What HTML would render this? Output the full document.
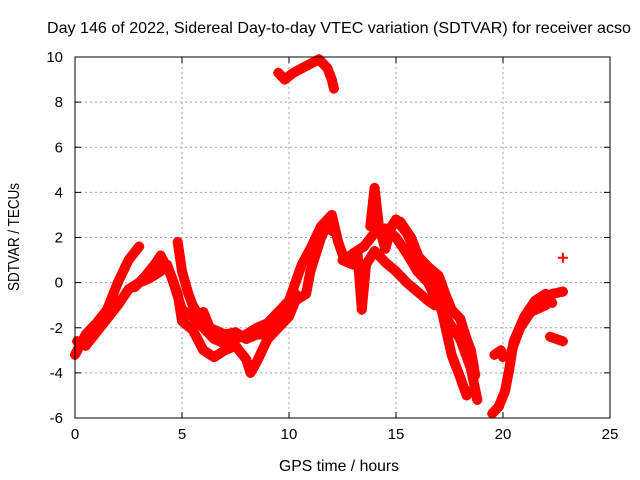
<!DOCTYPE html>
<html><head><meta charset="utf-8"><style>
body{margin:0;background:#fff}
svg{display:block;font-family:"Liberation Sans",sans-serif}
</style></head><body>
<svg id="chart" width="640" height="480">
<text x="339" y="33" text-anchor="middle" font-size="16" textLength="584" lengthAdjust="spacingAndGlyphs">Day 146 of 2022, Sidereal Day-to-day VTEC variation (SDTVAR) for receiver acso</text>
<g id="grid"></g>
<g id="series"></g>
<rect x="75" y="57" width="535" height="361" fill="none" stroke="#000" stroke-width="1"/>
<g id="axes"></g>
<text x="339" y="471" text-anchor="middle" font-size="16" textLength="120" lengthAdjust="spacingAndGlyphs">GPS time / hours</text>
<text transform="translate(19,237) rotate(-90)" text-anchor="middle" font-size="16" textLength="108" lengthAdjust="spacingAndGlyphs">SDTVAR / TECUs</text>
</svg>
<script>
const xTicks=[0,5,10,15,20,25];
const yTicks=[-6,-4,-2,0,2,4,6,8,10];
const track1=[[0.1,-2.6],[0.5,-2.8],[1,-2.2],[1.5,-1.6],[2,-1],[2.5,-0.3],[3,0],[3.5,0.2],[4,0.5],[4.3,0.8],[4.6,0],[5,-1.2],[5.5,-1.5],[6,-2],[6.5,-2.5],[7,-2.7],[7.5,-2.5],[8,-2.3],[8.5,-2],[9,-1.8],[9.5,-1.3],[10,-0.8],[10.3,0],[10.6,0.8],[11,1.5],[11.5,2.5],[12,3],[12.3,1.8],[12.6,1.0],[13,1.3],[13.5,1.6],[14,2.2],[14.5,2.4],[15,2],[15.5,1.3],[16,0.5],[16.5,0],[17,-1],[17.5,-1.8],[18,-2.5],[18.5,-3.8],[18.8,-5.2]];
const track2=[[0,-3.2],[0.5,-2.3],[1,-1.8],[1.5,-1.2],[2,0],[2.5,1],[3,1.6]];
const track3=[[2.8,-0.2],[3.3,0.3],[3.8,0.9],[4,1.2],[4.5,0.3],[4.8,-0.5],[5,-1.7],[5.5,-2.1],[6,-3],[6.5,-3.3],[7,-3],[7.5,-2.8],[8,-3.4],[8.2,-4],[8.5,-3.5],[9,-2.5],[9.5,-2],[10,-1.5],[10.3,-0.8],[10.8,-0.5],[11,0.5],[11.5,2],[11.8,2.6],[12,2.3]];
const track4=[[4.8,1.8],[5,0.5],[5.3,-0.5],[5.5,-1],[5.8,-1.5],[6,-1.3],[6.3,-2],[7,-2.3],[7.5,-2.2],[8,-2.5],[8.5,-2.3],[9,-2.3],[9.5,-1.5],[10,-1],[10.3,-0.5]];
const track5=[[9.5,9.3],[9.8,9.0],[10.2,9.3],[10.6,9.5],[11,9.7],[11.4,9.9],[11.8,9.5],[12,9.0],[12.1,8.6]];
const track6=[[13.8,2.5],[14,4.2],[14.2,2.5],[14.5,1.5],[14.8,2.5],[15,2.8],[15.5,2.2],[16,1.2],[16.5,0.7],[17,0.3],[17.3,-0.5],[17.6,-1.2],[18,-1.6],[18.3,-2.5],[18.5,-3],[18.7,-4.1]];
const track7=[[12.5,1],[13,0.8],[13.2,1.3],[13.4,-1.2],[13.6,0.8],[14,1.4],[14.5,0.9],[15,0.5],[15.5,0],[16,-0.4],[16.5,-0.8],[16.8,-1.0]];
const track8=[[15.2,2.7],[15.7,2],[16.2,0.8],[16.8,0],[17.2,-1.5],[17.6,-3.2],[18,-4.2],[18.3,-5],[18.5,-4.8]];
const track9=[[19.6,-3.2],[19.9,-3],[20,-3.3]];
const track10=[[19.5,-5.8],[19.8,-5.5],[20.1,-4.8],[20.3,-3.8],[20.5,-2.6],[21,-1.5],[21.5,-0.8],[22,-0.5],[22.3,-0.9]];
const track11=[[20.4,-3],[20.8,-2],[21.3,-1.3],[22,-1]];
const track12=[[22.2,-2.4],[22.8,-2.6]];
const track13=[[22.3,-0.5],[22.8,-0.4]];
const track14=[[22.8,1.1]];
const tracks=[track1,track2,track3,track4,track5,track6,track7,track8,track9,track10,track11,track12,track13,track14];

const X0=75,X1=610,Y0=418,Y1=57;
function sx(v){return X0+(v-0)/(25-0)*(X1-X0);}
function sy(v){return Y0-(v+6)/(10+6)*(Y0-Y1);}
const NS="http://www.w3.org/2000/svg";
function mk(tag,attrs,parent){const e=document.createElementNS(NS,tag);for(const k in attrs)e.setAttribute(k,attrs[k]);parent.appendChild(e);return e;}
const grid=document.getElementById('grid'),axes=document.getElementById('axes'),ser=document.getElementById('series');
xTicks.forEach(t=>{const x=sx(t);
 if(t>0&&t<25){const g=mk('line',{x1:x,x2:x,y1:Y1,y2:Y0,stroke:'#a0a0a0','stroke-dasharray':'2,3'},grid);
 
 }
 mk('line',{x1:x,x2:x,y1:Y0,y2:Y0-6,stroke:'#000'},axes);
 mk('line',{x1:x,x2:x,y1:Y1,y2:Y1+6,stroke:'#000'},axes);
 const l=mk('text',{x:x,y:Y0+21,'text-anchor':'middle','font-size':'15'},axes);l.textContent=t;
 
 
});
yTicks.forEach(t=>{const y=sy(t);
 if(t>-6&&t<10){const g=mk('line',{x1:X0,x2:X1,y1:y,y2:y,stroke:'#a0a0a0','stroke-dasharray':'2,3'},grid);
 
 }
 mk('line',{x1:X0,x2:X0+6,y1:y,y2:y,stroke:'#000'},axes);
 mk('line',{x1:X1,x2:X1-6,y1:y,y2:y,stroke:'#000'},axes);
 const l=mk('text',{x:X0-12,y:y+5,'text-anchor':'end','font-size':'15'},axes);l.textContent=t;
 
 
});
tracks.forEach(tr=>{
 const pts=tr.map(p=>sx(p[0]).toFixed(1)+','+sy(p[1]).toFixed(1)).join(' ');
 const pl=mk('polyline',{points:pts,fill:'none',stroke:'#f00','stroke-width':'10','stroke-linejoin':'round','stroke-linecap':'round'},ser);
 
 
 tr.forEach(p=>{const x=sx(p[0]),y=sy(p[1]);
  const m=mk('path',{d:`M${x-5},${y}H${x+5}M${x},${y-5}V${y+5}`,stroke:'#f00','stroke-width':'2'},ser);
  
  
 });
});
</script>
</body></html>
